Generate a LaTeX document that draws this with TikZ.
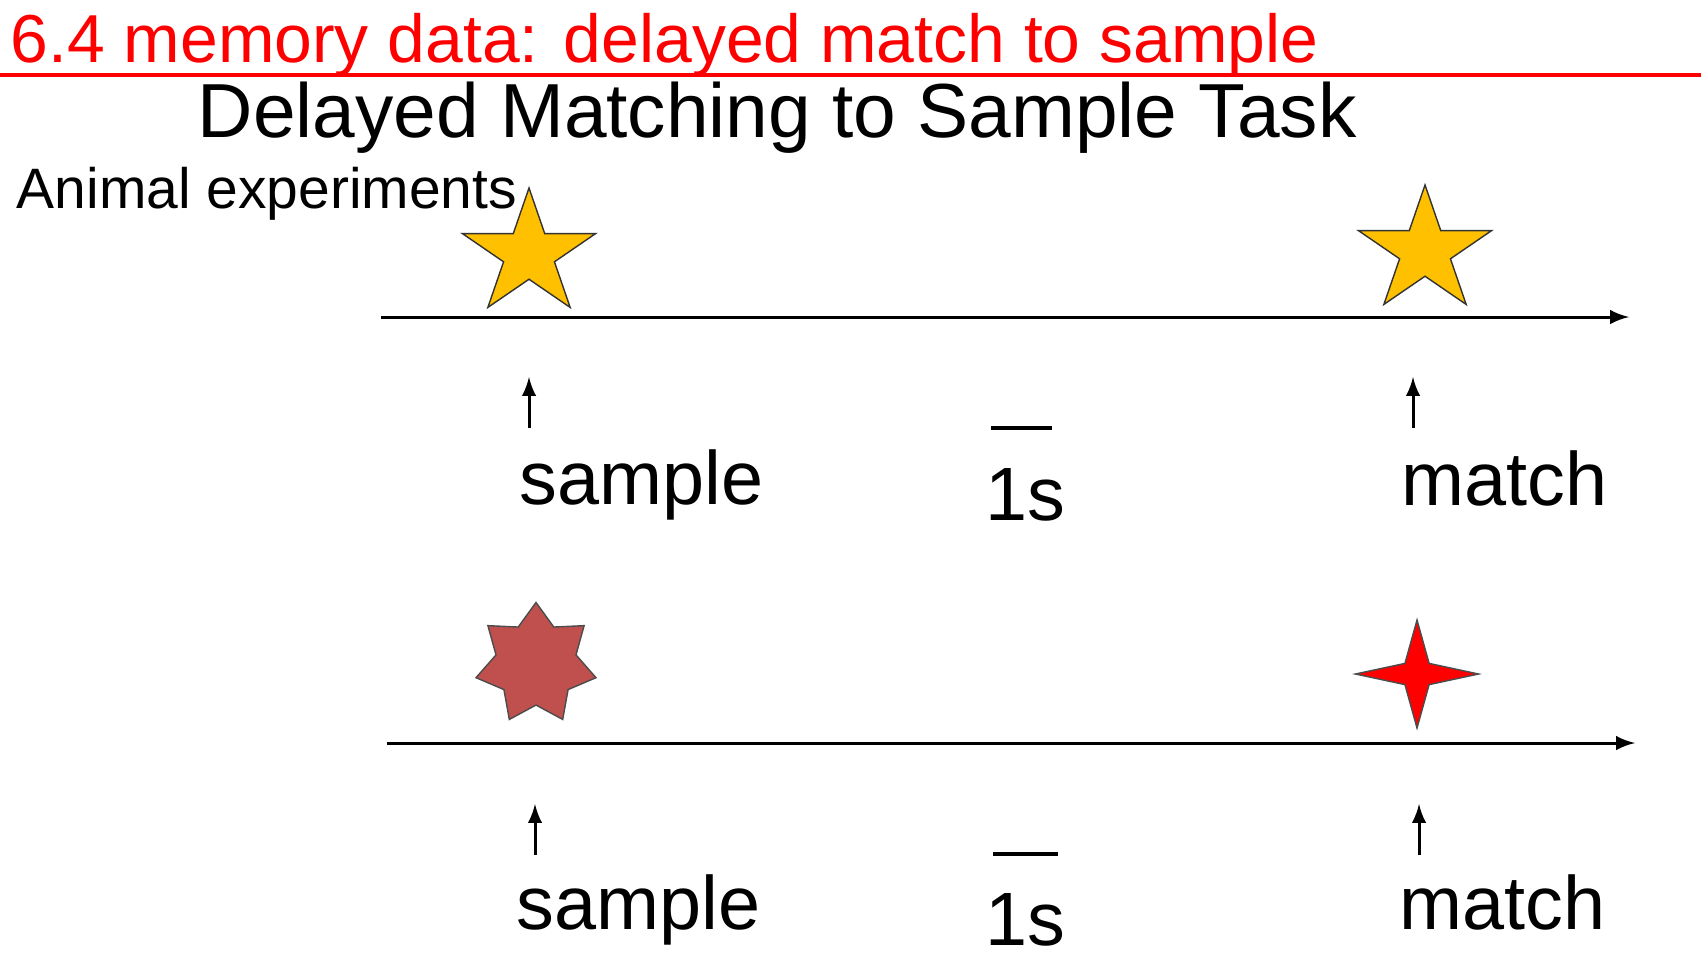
\documentclass[tikz,border=0pt]{standalone}
\usepackage{fontspec}
\setmainfont{Liberation Sans}
\usetikzlibrary{shapes.geometric,arrows,positioning}
\definecolor{stargold}{HTML}{FFC000}
\definecolor{starbrown}{HTML}{C0504D}

\begin{document}
\begin{tikzpicture}[x=0.01cm,y=-0.01cm]
                    \tikzset{
                      lbl/.style={inner sep=0pt, anchor=base west, font=\fontsize{21.5}{26}\selectfont},
                      timeline/.style={line width=0.85pt, -latex},
                      cue/.style={line width=0.85pt, -latex},
                      scalebar/.style={line width=1.4pt},
                      starfive/.style={star, star points=5, star point ratio=2.618, minimum size=1.32cm,
                                       inner sep=0pt, draw=black!80, line width=0.4pt, fill=stargold},
                    }
                    \useasboundingbox (0,0) rectangle (1701,957);

                    %%header
                    \node[inner sep=0pt, anchor=base west, text=red, font=\fontsize{19.3}{23}\selectfont] (topic) at (10,62) {6.4 memory data: delayed match to sample};
                    \coordinate (ruleL) at (0,75);
                    \coordinate (ruleR) at (1701,75);
                    \draw[red, line width=0.9pt] (ruleL) -- (ruleR);
                    \node[inner sep=0pt, anchor=base west, font=\fontsize{21.8}{26}\selectfont] (heading) at (197,137) {Delayed Matching to Sample Task};
                    \node[inner sep=0pt, anchor=base west, font=\fontsize{16.2}{19}\selectfont] (animal) at (16,208) {Animal experiments};

                    %%first trial
                    \coordinate (lineAs) at (381,317);
                    \coordinate (lineAe) at (1629,317);
                    \draw[timeline] (lineAs) -- (lineAe);
                    \node[starfive, xscale=1.06] (sampA) at (529,254) {};
                    \node[starfive, xscale=1.06] (matchA) at (1425,251) {};
                    \coordinate (cueAs1) at (529,428);
                    \coordinate (cueAe1) at (529,377);
                    \coordinate (cueAs2) at (1413,428);
                    \coordinate (cueAe2) at (1413,377);
                    \draw[cue] (cueAs1) -- (cueAe1);
                    \draw[cue] (cueAs2) -- (cueAe2);
                    \node[lbl] (sampletxtA) at (519,504) {sample};
                    \node[lbl] (secA) at (985,520) {1s};
                    \node[lbl] (matchtxtA) at (1401,505) {match};
                    \coordinate (barAl) at (991,428);
                    \coordinate (barAr) at (1052,428);
                    \draw[scalebar] (barAl) -- (barAr);

                    %%second trial
                    \coordinate (lineBs) at (387,743);
                    \coordinate (lineBe) at (1635,743);
                    \draw[timeline] (lineBs) -- (lineBe);
                    \node[star, star points=7, star point ratio=1.5, minimum size=1.23cm, inner sep=0pt,
                          draw=black!70, line width=0.4pt, fill=starbrown] (sampB) at (536,664) {};
                    \node[star, star points=4, star point ratio=3.6, minimum size=1.08cm, inner sep=0pt,
                          draw=black!70, line width=0.4pt, fill=red, xscale=1.14] (matchB) at (1417,674) {};
                    \coordinate (cueBs1) at (535,855);
                    \coordinate (cueBe1) at (535,804);
                    \coordinate (cueBs2) at (1419,855);
                    \coordinate (cueBe2) at (1419,804);
                    \draw[cue] (cueBs1) -- (cueBe1);
                    \draw[cue] (cueBs2) -- (cueBe2);
                    \node[lbl] (sampletxtB) at (516,929) {sample};
                    \node[lbl] (secB) at (985,945) {1s};
                    \node[lbl] (matchtxtB) at (1399,929) {match};
                    \coordinate (barBl) at (993,854);
                    \coordinate (barBr) at (1058,854);
                    \draw[scalebar] (barBl) -- (barBr);

                \end{tikzpicture}
\end{document}
